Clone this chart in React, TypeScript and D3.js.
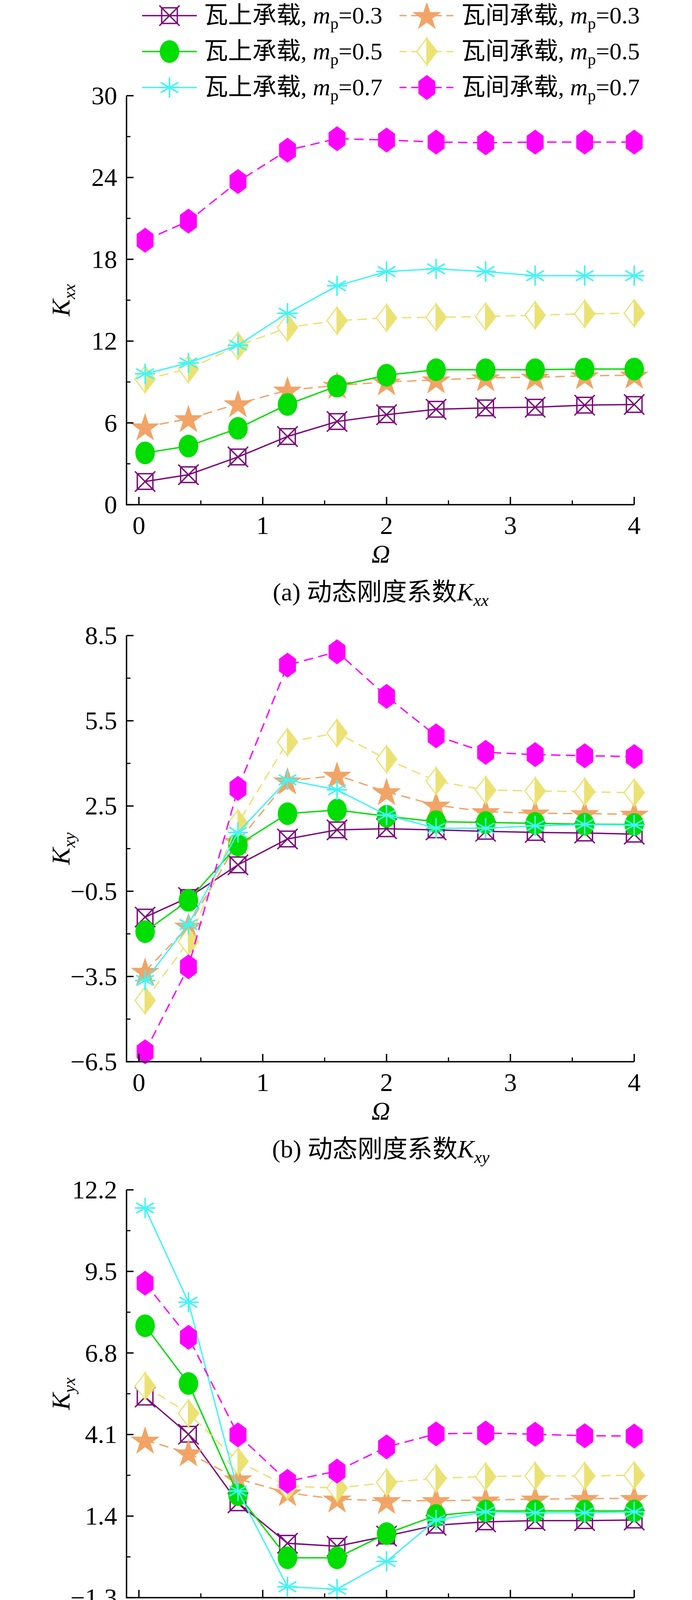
import React from "react";
import * as d3 from "d3";

// Omega sample points shared by all panels
const omega = [0.05, 0.4, 0.8, 1.2, 1.6, 2.0, 2.4, 2.8, 3.2, 3.6, 4.0];

// series order: on-pad 0.3, gap 0.3, on-pad 0.5, gap 0.5, on-pad 0.7, gap 0.7
const kxx = [
  [1.7, 2.2, 3.5, 5.0, 6.1, 6.6, 7.0, 7.1, 7.15, 7.3, 7.35],
  [5.7, 6.3, 7.4, 8.4, 8.75, 9.0, 9.15, 9.3, 9.35, 9.45, 9.5],
  [3.8, 4.3, 5.6, 7.35, 8.7, 9.5, 9.9, 9.9, 9.9, 9.95, 9.95],
  [9.2, 9.95, 11.65, 13.0, 13.5, 13.7, 13.75, 13.8, 13.9, 14.0, 14.05],
  [9.6, 10.4, 11.7, 14.05, 16.05, 17.1, 17.3, 17.1, 16.8, 16.8, 16.8],
  [19.4, 20.8, 23.7, 26.0, 26.85, 26.75, 26.6, 26.55, 26.6, 26.6, 26.6],
];
const kxy = [
  [-1.41, -0.72, 0.43, 1.34, 1.66, 1.7, 1.66, 1.61, 1.57, 1.55, 1.51],
  [-3.32, -1.73, 1.25, 3.38, 3.58, 3.0, 2.53, 2.3, 2.25, 2.23, 2.21],
  [-1.92, -0.82, 1.13, 2.23, 2.36, 2.14, 1.95, 1.92, 1.89, 1.86, 1.85],
  [-4.34, -2.27, 1.89, 4.75, 5.07, 4.15, 3.38, 3.06, 3.03, 3.0, 2.97],
  [-3.64, -1.67, 1.57, 3.42, 3.07, 2.18, 1.72, 1.72, 1.8, 1.85, 1.83],
  [-6.15, -3.16, 3.12, 7.46, 7.93, 6.36, 4.97, 4.39, 4.31, 4.27, 4.24],
];
const kyx = [
  [5.34, 4.11, 1.84, 0.5, 0.4, 0.74, 1.1, 1.21, 1.25, 1.25, 1.27],
  [3.91, 3.49, 2.63, 2.17, 1.96, 1.91, 1.91, 1.93, 1.96, 1.98, 1.98],
  [7.7, 5.79, 2.11, 0.02, 0.02, 0.82, 1.42, 1.57, 1.57, 1.57, 1.57],
  [5.7, 4.8, 3.21, 2.39, 2.33, 2.51, 2.65, 2.71, 2.73, 2.73, 2.75],
  [11.6, 8.48, 2.23, -0.94, -1.02, -0.1, 1.27, 1.54, 1.51, 1.51, 1.54],
  [9.11, 7.32, 4.09, 2.55, 2.89, 3.69, 4.12, 4.15, 4.11, 4.06, 4.05],
];
const kyy = [
  [5.8, 6.4, 7.7, 8.3, 8.8, 9.1, 9.25, 9.35, 9.45, 9.5, 9.55],
  [2.1, 2.8, 4.25, 5.8, 7.2, 7.85, 8.0, 8.15, 8.15, 8.2, 8.2],
  [11.2, 12.2, 14.4, 15.8, 16.4, 16.4, 16.4, 16.5, 16.6, 16.65, 16.65],
  [4.8, 5.6, 7.5, 9.8, 11.4, 12.2, 12.3, 12.3, 12.2, 12.2, 12.2],
  [27.5, 29.5, 33.3, 36.2, 36.9, 36.4, 35.9, 35.8, 35.8, 35.9, 36.0],
  [12.5, 13.5, 16.2, 19.2, 21.65, 22.6, 22.5, 22.1, 21.8, 21.65, 21.65],
];

const loads = ["瓦上承载", "瓦间承载"];
const mpValues = ["0.3", "0.3", "0.5", "0.5", "0.7", "0.7"];
const colors = ["#7a0a7a", "#f2a466", "#00dd00", "#ebe273", "#44f4f4", "#ff00ff"];
const markers = ["boxx", "star", "circle", "diamond", "aster", "hex"];
const xTicks = [0, 1, 2, 3, 4];

const panels = [
  { data: kxx, top: 245, bottom: 1292, domain: [0, 30], step: 6, dec: 0, sub: "xx", tag: "(a)" },
  { data: kxy, top: 1627, bottom: 2718, domain: [-6.5, 8.5], step: 3, dec: 1, sub: "xy", tag: "(b)" },
  { data: kyx, top: 3046, bottom: 4090, domain: [-1.3, 12.2], step: 2.7, dec: 1, sub: "yx", tag: "(c)" },
  { data: kyy, top: 4428, bottom: 5470, domain: [0, 42], step: 7, dec: 0, sub: "yy", tag: "(d)" },
];

const font = "'Liberation Serif', 'Times New Roman', 'Noto Sans CJK SC', serif";
const x = d3.scaleLinear().domain([-0.1, 4]).range([324, 1624]);

function Marker({ type, cx, cy, color }: { type: string; cx: number; cy: number; color: string }) {
  const s = 26;
  if (type === "boxx")
    return (
      <g stroke={color} strokeWidth={3.5} fill="none">
        <rect x={cx - 20} y={cy - 20} width={40} height={40} />
        <path d={`M${cx - s},${cy - s}L${cx + s},${cy + s}M${cx - s},${cy + s}L${cx + s},${cy - s}`} />
      </g>
    );
  if (type === "star") {
    const p = d3.symbol(d3.symbolStar, 1700)()!;
    return <path d={p} transform={`translate(${cx},${cy + 3})`} fill={color} />;
  }
  if (type === "circle") return <ellipse cx={cx} cy={cy} rx={25} ry={29} fill={color} />;
  if (type === "diamond")
    return (
      <g stroke={color} strokeWidth={3}>
        <path d={`M${cx},${cy - 34}L${cx + 26},${cy}L${cx},${cy + 34}Z`} fill={color} />
        <path d={`M${cx},${cy - 34}L${cx - 26},${cy}L${cx},${cy + 34}Z`} fill="white" />
      </g>
    );
  if (type === "aster") {
    const arms = [90, 30, 150].map((a) => {
      const r = (a * Math.PI) / 180;
      return `M${cx - s * Math.cos(r)},${cy - s * Math.sin(r)}L${cx + s * Math.cos(r)},${cy + s * Math.sin(r)}`;
    });
    return <path d={arms.join("") + `M${cx - s},${cy}L${cx + s},${cy}`} stroke={color} strokeWidth={4} />;
  }
  const pts = d3.range(6).map((i) => {
    const a = (i * Math.PI) / 3 + Math.PI / 2;
    return [cx + 25 * Math.cos(a), cy + 32 * Math.sin(a)];
  });
  return <path d={"M" + pts.join("L") + "Z"} fill={color} />;
}

function Panel({ p }: { p: (typeof panels)[number] }) {
  const y = d3.scaleLinear().domain(p.domain).range([p.bottom, p.top]);
  const n = Math.round((p.domain[1] - p.domain[0]) / p.step);
  const yTicks = d3.range(n + 1).map((k) => p.domain[0] + k * p.step);
  const yMinor = yTicks.slice(0, -1).map((t) => t + p.step / 2);
  const line = d3.line<number>().x((_, i) => x(omega[i])).y((v) => y(v));
  const mid = (p.top + p.bottom) / 2;
  const fmt = (t: number) => t.toFixed(p.dec).replace("-", "−");
  return (
    <g fontFamily={font}>
      {p.data.map((vals, i) => {
        const c = i === 4 && p.sub === "yy" ? "#1a6aa6" : colors[i];
        return (
          <g key={i}>
            <path d={line(vals)!} fill="none" stroke={c} strokeWidth={3.5} strokeDasharray={i % 2 ? "24 14" : undefined} />
            {vals.map((v, j) => (
              <Marker key={j} type={markers[i]} cx={x(omega[j])} cy={y(v)} color={c} />
            ))}
          </g>
        );
      })}
      <path d={`M${x(-0.1)},${p.top}V${p.bottom}H${x(4)}`} fill="none" stroke="black" strokeWidth={3.5} />
      {yTicks.map((t) => (
        <g key={t}>
          <line x1={x(-0.1)} x2={x(-0.1) + 18} y1={y(t)} y2={y(t)} stroke="black" strokeWidth={3.5} />
          <text x={300} y={y(t) + 22} fontSize={66} textAnchor="end">{fmt(t)}</text>
        </g>
      ))}
      {yMinor.map((t) => (
        <line key={t} x1={x(-0.1)} x2={x(-0.1) + 10} y1={y(t)} y2={y(t)} stroke="black" strokeWidth={3} />
      ))}
      {xTicks.map((t) => (
        <g key={t}>
          <line x1={x(t)} x2={x(t)} y1={p.bottom} y2={p.bottom - 20} stroke="black" strokeWidth={3.5} />
          <text x={x(t)} y={p.bottom + 75} fontSize={66} textAnchor="middle">{t}</text>
          {t < 4 && <line x1={x(t + 0.5)} x2={x(t + 0.5)} y1={p.bottom} y2={p.bottom - 11} stroke="black" strokeWidth={3} />}
        </g>
      ))}
      <text x={975} y={p.bottom + 148} fontSize={66} fontStyle="italic" textAnchor="middle">Ω</text>
      <text x={975} y={p.bottom + 245} fontSize={64} textAnchor="middle">
        {p.tag} 动态刚度系数<tspan fontStyle="italic">K</tspan>
        <tspan fontStyle="italic" fontSize={44} dy={14}>{p.sub}</tspan>
      </text>
      <text transform={`translate(178,${mid}) rotate(-90)`} fontSize={66} textAnchor="middle">
        <tspan fontStyle="italic">K</tspan>
        <tspan fontStyle="italic" fontSize={44} dy={14}>{p.sub}</tspan>
      </text>
    </g>
  );
}

function Legend() {
  return (
    <g fontFamily={font} fontSize={62}>
      {colors.map((c, i) => {
        const col = i % 2;
        const row = Math.floor(i / 2);
        const lx = col ? 1023 : 364;
        const cy = 40 + row * 92;
        return (
          <g key={i}>
            <line x1={lx} x2={lx + 140} y1={cy} y2={cy} stroke={c} strokeWidth={3.5} strokeDasharray={col ? "18 12" : undefined} />
            <Marker type={markers[i]} cx={lx + 70} cy={cy} color={c} />
            <text x={lx + 158} y={cy + 20}>
              {loads[col]}, <tspan fontStyle="italic">m</tspan>
              <tspan fontSize={42} dy={14}>p</tspan>
              <tspan dy={-14}>={mpValues[i]}</tspan>
            </text>
          </g>
        );
      })}
    </g>
  );
}

export default function App() {
  return (
    <svg width={1772} height={5739} style={{ display: "block", margin: "-8px 0 0 -8px", background: "white" }}>
      <rect width={1772} height={5739} fill="white" />
      <Legend />
      {panels.map((p) => (
        <Panel key={p.sub} p={p} />
      ))}
    </svg>
  );
}
